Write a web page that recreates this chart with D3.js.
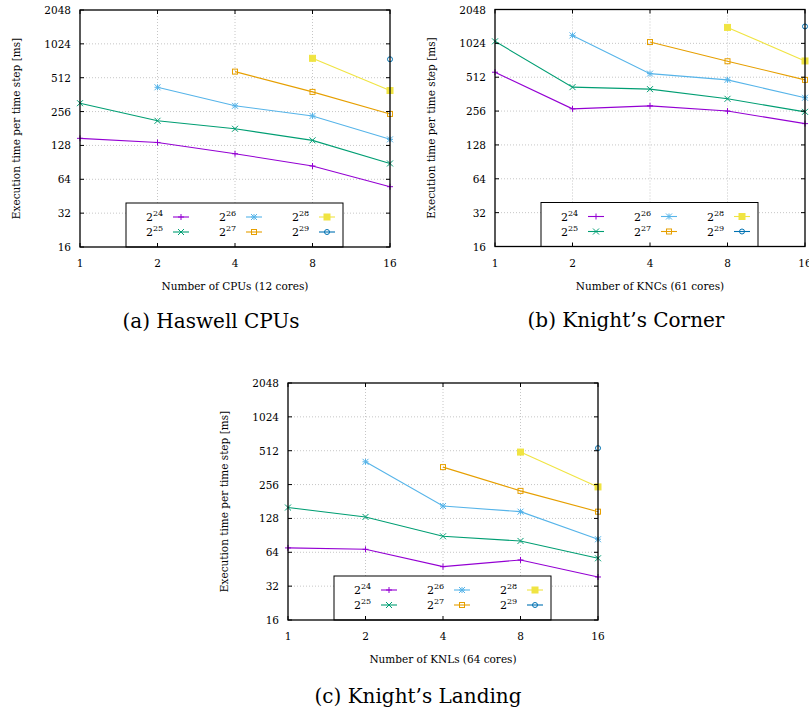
<!DOCTYPE html>
<html lang="en">
<head>
    <meta charset="UTF-8">
    <title>Execution time per time step</title>
    <script src="https://d3js.org/d3.v7.min.js"></script>
    <style>
        body { margin: 0; background: #fff; }
        svg { font-family: "DejaVu Serif", "Liberation Serif", serif; }
        .grid line { stroke: #b8b8b8; stroke-width: 0.8px; stroke-dasharray: 1,2; }
        .tick-label { font-size: 10.5px; fill: #000; }
        .axis-title { font-size: 10.5px; fill: #000; }
        .caption { font-size: 20px; fill: #000; }
        .legend text { font-size: 11px; }
    </style>
</head>
<body>
    <svg width="809" height="715"></svg>
    <script>
        // Shared axis values
        const cpus = [1, 2, 4, 8, 16];
        const yTicks = [16, 32, 64, 128, 256, 512, 1024, 2048];
        const exponents = [24, 25, 26, 27, 28, 29];
        const colors = ["#9400d3", "#009e73", "#56b4e9", "#e69f00", "#f0e442", "#0072b2"];

        // Execution time [ms], one row per problem size 2^24 .. 2^29
        const haswell = [
            [148, 136, 108, 84, 55],
            [304, 212, 180, 142, 88.5],
            [null, 421, 288, 234, 145],
            [null, null, 580, 383, 244],
            [null, null, null, 762, 394],
            [null, null, null, null, 747]
        ];
        const knc = [
            [567, 268, 285, 256, 198],
            [1067, 418, 401, 329, 252],
            [null, 1205, 551, 485, 336],
            [null, null, 1052, 710, 485],
            [null, null, null, 1419, 714],
            [null, null, null, null, 1448]
        ];
        const knl = [
            [70, 68, 47.7, 54.7, 38.6],
            [160, 132, 88.8, 80.7, 56.6],
            [null, 408, 165, 147, 83.6],
            [null, null, 366, 225, 147],
            [null, null, null, 498, 244],
            [null, null, null, null, 540]
        ];

        const panels = [
            { data: haswell, left: 80, top: 10, xTitle: "Number of CPUs (12 cores)", caption: "(a) Haswell CPUs", capX: 211, capY: 328 },
            { data: knc, left: 495, top: 9.5, xTitle: "Number of KNCs (61 cores)", caption: "(b) Knight\u2019s Corner", capX: 626, capY: 327 },
            { data: knl, left: 288, top: 383, xTitle: "Number of KNLs (64 cores)", caption: "(c) Knight\u2019s Landing", capX: 418, capY: 703 }
        ];

        const width = 310, height = 237;
        const svg = d3.select("svg");

        // gnuplot style point symbols
        function drawMarker(g, i, color) {
            const s = 3;
            if (i === 0) {
                g.append("path").attr("d", `M${-s},0H${s}M0,${-s}V${s}`).attr("stroke", color).attr("fill", "none");
            } else if (i === 1) {
                g.append("path").attr("d", `M${-s},${-s}L${s},${s}M${-s},${s}L${s},${-s}`).attr("stroke", color).attr("fill", "none");
            } else if (i === 2) {
                g.append("path").attr("d", `M${-s},0H${s}M0,${-s}V${s}M${-s},${-s}L${s},${s}M${-s},${s}L${s},${-s}`)
                    .attr("stroke", color).attr("fill", "none");
            } else if (i === 3) {
                g.append("rect").attr("x", -s + 0.5).attr("y", -s + 0.5).attr("width", 2 * s - 1).attr("height", 2 * s - 1)
                    .attr("stroke", color).attr("fill", "none");
            } else if (i === 4) {
                g.append("rect").attr("x", -s).attr("y", -s).attr("width", 2 * s).attr("height", 2 * s)
                    .attr("stroke", color).attr("fill", color);
            } else {
                g.append("circle").attr("r", s - 0.5).attr("stroke", color).attr("fill", "none");
            }
        }

        panels.forEach(p => {
            const g = svg.append("g").attr("transform", `translate(${p.left},${p.top})`);

            const x = d3.scaleLog().base(2).domain([1, 16]).range([0, width]);
            const y = d3.scaleLog().base(2).domain([16, 2048]).range([height, 0]);

            // Grid
            const grid = g.append("g").attr("class", "grid");
            grid.selectAll(".gx").data(cpus.slice(1, -1)).enter().append("line")
                .attr("x1", d => x(d)).attr("x2", d => x(d)).attr("y1", 0).attr("y2", height);
            grid.selectAll(".gy").data(yTicks.slice(1, -1)).enter().append("line")
                .attr("x1", 0).attr("x2", width).attr("y1", d => y(d)).attr("y2", d => y(d));

            // Series lines and points
            p.data.forEach((vals, i) => {
                const pts = cpus.map((c, j) => ({ c, v: vals[j] })).filter(d => d.v !== null);
                const line = d3.line().x(d => x(d.c)).y(d => y(d.v));
                g.append("path").datum(pts)
                    .attr("d", line)
                    .attr("fill", "none")
                    .attr("stroke", colors[i])
                    .attr("stroke-width", 1.1);
                pts.forEach(d => {
                    const m = g.append("g").attr("transform", `translate(${x(d.c)},${y(d.v)})`);
                    drawMarker(m, i, colors[i]);
                });
            });

            // Legend box
            const lg = g.append("g").attr("class", "legend").attr("transform", `translate(46,${height - 44})`);
            lg.append("rect").attr("width", 217).attr("height", 44)
                .attr("fill", "#fff").attr("stroke", "#000").attr("stroke-width", 1);
            exponents.forEach((e, i) => {
                const col = Math.floor(i / 2), row = i % 2;
                const ex = 20 + col * 73, ey = 14 + row * 15;
                const t = lg.append("text").attr("x", ex).attr("y", ey + 4);
                t.append("tspan").text("2");
                t.append("tspan").attr("dy", -5).attr("font-size", "8px").text(e);
                lg.append("line").attr("x1", ex + 27).attr("x2", ex + 43).attr("y1", ey).attr("y2", ey)
                    .attr("stroke", colors[i]).attr("stroke-width", 1.1);
                drawMarker(lg.append("g").attr("transform", `translate(${ex + 35},${ey})`), i, colors[i]);
            });

            // Ticks (inward, mirrored)
            const tk = g.append("g").attr("stroke", "#000").attr("stroke-width", 1);
            cpus.forEach(c => {
                tk.append("line").attr("x1", x(c)).attr("x2", x(c)).attr("y1", height).attr("y2", height - 4);
                tk.append("line").attr("x1", x(c)).attr("x2", x(c)).attr("y1", 0).attr("y2", 4);
            });
            yTicks.forEach(v => {
                tk.append("line").attr("x1", 0).attr("x2", 4).attr("y1", y(v)).attr("y2", y(v));
                tk.append("line").attr("x1", width).attr("x2", width - 4).attr("y1", y(v)).attr("y2", y(v));
            });

            // Frame
            g.append("rect").attr("width", width).attr("height", height)
                .attr("fill", "none").attr("stroke", "#000").attr("stroke-width", 1.3);

            // Tick labels
            g.selectAll(".xl").data(cpus).enter().append("text")
                .attr("class", "tick-label")
                .attr("x", d => x(d)).attr("y", height + 20)
                .attr("text-anchor", "middle")
                .text(d => d);
            g.selectAll(".yl").data(yTicks).enter().append("text")
                .attr("class", "tick-label")
                .attr("x", -9).attr("y", d => y(d) + 4)
                .attr("text-anchor", "end")
                .text(d => d);

            // Axis titles
            g.append("text").attr("class", "axis-title")
                .attr("x", width / 2).attr("y", height + 43)
                .attr("text-anchor", "middle")
                .text(p.xTitle);
            g.append("text").attr("class", "axis-title")
                .attr("transform", `translate(-60,${height / 2}) rotate(-90)`)
                .attr("text-anchor", "middle")
                .text("Execution time per time step [ms]");

            // Caption
            svg.append("text").attr("class", "caption")
                .attr("x", p.capX).attr("y", p.capY)
                .attr("text-anchor", "middle")
                .text(p.caption);
        });
    </script>
</body>
</html>
